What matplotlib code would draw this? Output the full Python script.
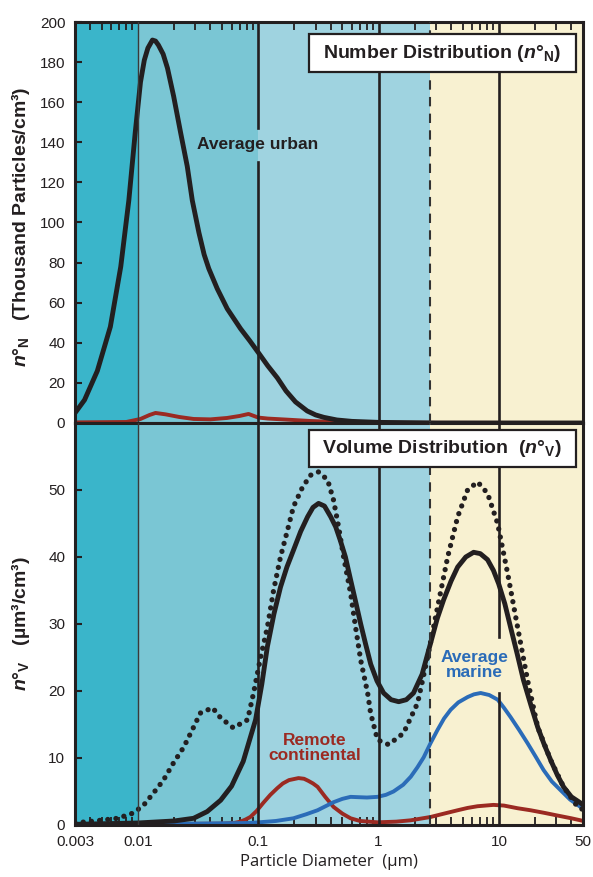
import numpy as np
import matplotlib.pyplot as plt
from matplotlib.patches import Rectangle
from matplotlib.ticker import LogLocator, NullFormatter

plt.rcParams['font.family'] = ['Liberation Sans', 'DejaVu Sans']
plt.rcParams['mathtext.fontset'] = 'custom'
plt.rcParams['mathtext.rm'] = 'Liberation Sans:bold'
plt.rcParams['mathtext.it'] = 'Liberation Sans:italic:bold'
plt.rcParams['mathtext.bf'] = 'Liberation Sans:bold'

INK = '#231F20'
RED = '#9B2A22'
BLUE = '#2B6CB8'

# size bands (um) and their fill colours
band_edges = [(0.003, 0.01), (0.01, 0.1), (0.1, 2.65), (2.65, 50)]
band_colors = ['#3AB5CA', '#7AC6D4', '#9FD3E0', '#F8F1D1']

# number distribution (thousand particles / cm3)
urban_n_d = [0.003, 0.0036, 0.0046, 0.0059, 0.0072, 0.0084, 0.0095, 0.0105, 0.0113, 0.0121,
             0.0132, 0.014, 0.0148, 0.0162, 0.0176, 0.0198, 0.0226, 0.0257, 0.0283, 0.0321,
             0.0355, 0.0388, 0.0456, 0.0552, 0.0713, 0.085, 0.101, 0.12, 0.144, 0.17,
             0.204, 0.255, 0.30, 0.351, 0.45, 0.6, 1.0, 3, 50]
urban_n = [5, 11.5, 26, 48, 78, 111, 145, 170, 181, 187,
           191, 190.5, 188.5, 184, 177, 163, 145, 128, 111, 95,
           84, 77, 67, 57, 47, 41, 34.8, 28.5, 22.5, 16,
           10.5, 6, 4, 2.8, 1.5, 0.8, 0.3, 0, 0]

remote_n_d = [0.003, 0.008, 0.0105, 0.0125, 0.014, 0.017, 0.022, 0.029, 0.04, 0.055,
              0.07, 0.083, 0.1, 0.12, 0.17, 0.27, 0.5, 1, 50]
remote_n = [0.3, 0.5, 2, 4, 5, 4.3, 3, 2, 1.8, 2.5,
            3.5, 4.5, 2.7, 2.2, 1.7, 1, 0.4, 0.1, 0]

# volume distribution (um3 / cm3)
urban_v_d = [0.003, 0.01, 0.02, 0.029, 0.0376, 0.0487, 0.06, 0.075, 0.095, 0.107,
             0.119, 0.135, 0.153, 0.173, 0.196, 0.225, 0.257, 0.285, 0.317, 0.355,
             0.40, 0.44, 0.48, 0.53, 0.585, 0.645, 0.71, 0.78, 0.86, 0.97,
             1.1, 1.27, 1.47, 1.7, 1.95, 2.3, 2.71, 3.07, 3.47, 4.0,
             4.54, 5.3, 6.16, 7.0, 8.04, 9.0, 9.95, 11.2, 12.5, 14.2,
             16.0, 18.5, 21, 23.8, 26.9, 30.5, 34.4, 40, 47.6, 50]
urban_v = [0.1, 0.3, 0.6, 1, 2, 3.7, 5.8, 9.5, 15.7, 21,
           26.6, 31.5, 35.5, 38.5, 41, 43.8, 46, 47.4, 48, 47.6,
           46, 44.5, 42.5, 40, 36.6, 33.3, 30, 27, 24, 21.5,
           19.7, 18.7, 18.4, 18.7, 19.7, 22.5, 27.2, 30.8, 33.6, 36.4,
           38.5, 40, 40.7, 40.5, 39.6, 38, 36, 33, 29.5, 25.5,
           21.6, 17.8, 14.6, 12, 9.7, 7.5, 5.7, 4.2, 3.3, 3]

urban_v2_d = [0.003, 0.0049, 0.0068, 0.0092, 0.0112, 0.0135, 0.0163, 0.0198, 0.024, 0.029,
              0.033, 0.0417, 0.0486, 0.062, 0.0815, 0.0914, 0.1045, 0.119, 0.134, 0.153,
              0.175, 0.196, 0.233, 0.272, 0.317, 0.377, 0.422, 0.465, 0.512, 0.585,
              0.644, 0.71, 0.811, 0.858, 0.98, 1.21, 1.61, 2.11, 2.55, 3.09,
              3.75, 4.54, 5.49, 6.65, 8.04, 9.75, 11.8, 14.3, 17.3, 21,
              26.9, 34.4, 45.1, 50]
urban_v2 = [0.3, 0.7, 1, 1.8, 3, 4.8, 6.7, 9.3, 11.6, 14.6,
            16.7, 17.5, 16, 14.5, 15.7, 19.7, 25, 29.5, 35, 40,
            44, 47.5, 50.4, 52.2, 52.7, 51.5, 48.5, 44.5, 40, 34.6,
            29.5, 24.6, 19.7, 16.7, 12.7, 12, 13.7, 18.2, 25, 32.5,
            40, 46, 50, 51.2, 49.5, 45, 37.6, 29.5, 21.6, 14.6,
            9.7, 5.7, 2.7, 2.3]

marine_v_d = [0.003, 0.03, 0.086, 0.14, 0.196, 0.25, 0.311, 0.422, 0.5, 0.585,
              0.68, 0.8, 0.98, 1.15, 1.33, 1.6, 1.85, 2.1, 2.37, 2.7,
              3.09, 3.5, 3.97, 4.6, 5.5, 6.2, 7.05, 8.3, 9.77, 11,
              12.5, 14.7, 17.3, 20.2, 23.5, 27.5, 32.5, 39, 47.5, 50]
marine_v = [0.1, 0.2, 0.3, 0.6, 1, 1.6, 2.2, 3.4, 3.9, 4.2,
            4.15, 4.1, 4.2, 4.5, 5, 6, 7.2, 8.6, 10.1, 12.2,
            14.2, 15.9, 17.2, 18.3, 19.1, 19.5, 19.7, 19.4, 18.7, 17.5,
            16.1, 14.2, 12.2, 10.2, 8.2, 6.5, 5.2, 3.8, 2.7, 2.5]

remote_v_d = [0.003, 0.05, 0.063, 0.071, 0.078, 0.086, 0.097, 0.11, 0.126, 0.144,
              0.16, 0.18, 0.216, 0.24, 0.26, 0.285, 0.311, 0.36, 0.422, 0.5,
              0.585, 0.7, 0.98, 1.4, 1.85, 2.71, 3.5, 4.54, 5.5, 6.64,
              9.0, 11, 14.3, 18.3, 24, 30.9, 40, 47.6, 50]
remote_v = [0.1, 0.2, 0.3, 0.5, 0.8, 1.2, 2.1, 3.3, 4.5, 5.5,
            6.2, 6.7, 7, 6.9, 6.6, 6.2, 5.7, 4.2, 2.7, 1.7,
            1, 0.6, 0.4, 0.5, 0.7, 1.2, 1.7, 2.2, 2.55, 2.8,
            3, 2.9, 2.5, 2.2, 1.8, 1.4, 1, 0.7, 0.6]

x_ticks = [0.003, 0.01, 0.1, 1, 10, 50]
x_tick_labels = ['0.003', '0.01', '0.1', '1', '10', '50']

fig = plt.figure(figsize=(5.93, 8.77), dpi=100)
ax1 = fig.add_axes([0.1265, 0.5177, 0.8567, 0.4572])
ax2 = fig.add_axes([0.1265, 0.0593, 0.8567, 0.4584])


def decade_line(ax, d, gap=None, **kw):
    if gap is None:
        ax.axvline(d, **kw)
    else:
        ax.axvline(d, ymin=0, ymax=gap[0], **kw)
        ax.axvline(d, ymin=gap[1], ymax=1, **kw)


for ax in (ax1, ax2):
    ax.set_xscale('log')
    ax.set_xlim(0.003, 50)
    for (lo, hi), c in zip(band_edges, band_colors):
        ax.axvspan(lo, hi, color=c, lw=0, zorder=0)
    ax.axvline(0.01, color='#3a3a3a', lw=1.0, zorder=3)
    ax.axvline(2.65, color='#333333', lw=1.5, linestyle=(0, (4.5, 3.5)), zorder=3)
    for s in ax.spines.values():
        s.set_linewidth(2.2)
        s.set_color(INK)
    ax.set_xticks(x_ticks)
    ax.xaxis.set_minor_locator(LogLocator(base=10, subs=np.arange(2, 10)))
    ax.xaxis.set_minor_formatter(NullFormatter())
    ax.tick_params(axis='x', which='major', length=0)
    ax.tick_params(axis='x', which='minor', length=6, width=1.3, color=INK, direction='in')
    ax.tick_params(axis='y', direction='in', length=5, width=1.5, color=INK,
                   labelsize=11, labelcolor=INK, pad=7, right=False)

decade_line(ax1, 0.1, gap=(0.651, 0.736), color=INK, lw=1.9, zorder=3)
decade_line(ax1, 1, color=INK, lw=1.9, zorder=3)
decade_line(ax1, 10, color=INK, lw=1.9, zorder=3)
decade_line(ax2, 0.1, color=INK, lw=1.9, zorder=3)
decade_line(ax2, 1, color=INK, lw=1.9, zorder=3)
decade_line(ax2, 10, gap=(0.328, 0.468), color=INK, lw=1.9, zorder=3)

curve = dict(solid_joinstyle='round', solid_capstyle='round', zorder=2)

# top panel: number distribution
ax1.plot(remote_n_d, remote_n, color=RED, lw=2.8, **curve)
ax1.plot(urban_n_d, urban_n, color=INK, lw=3.5, **curve)
ax1.set_ylim(0, 200)
ax1.set_yticks(range(0, 201, 20))
ax1.tick_params(axis='x', which='both', top=True, bottom=False, labelbottom=False)
ax1.set_ylabel(r"$n°_\mathbf{N}$   (Thousand Particles/cm³)", fontsize=14,
               fontweight='bold', color=INK)
ax1.yaxis.set_label_coords(-0.085, 0.49)
ax1.text(0.0987, 138.7, "Average urban", ha='center', va='center', fontsize=12.5,
         fontweight='bold', color=INK, zorder=4)
ax1.add_patch(Rectangle((0.461, 0.875), 0.525, 0.095, transform=ax1.transAxes,
                        fc='white', ec=INK, lw=1.6, zorder=5))
ax1.text(0.722, 0.922, r"Number Distribution ($n°_\mathbf{N}$)", transform=ax1.transAxes,
         ha='center', va='center', fontsize=14, fontweight='bold', color=INK, zorder=6)

# bottom panel: volume distribution
ax2.plot(remote_v_d, remote_v, color=RED, lw=2.8, **curve)
ax2.plot(marine_v_d, marine_v, color=BLUE, lw=2.8, **curve)
ax2.plot(urban_v2_d, urban_v2, color=INK, lw=3.8, linestyle=(0, (0.01, 1.55)),
         dash_capstyle='round', zorder=2)
ax2.plot(urban_v_d, urban_v, color=INK, lw=3.5, **curve)
ax2.set_ylim(0, 60)
ax2.set_yticks(range(0, 51, 10))
ax2.tick_params(axis='x', which='both', top=False, bottom=True)
ax2.set_xticklabels(x_tick_labels, fontsize=11, color=INK)
ax2.tick_params(axis='x', which='major', pad=7)
ax2.set_xlabel("Particle Diameter  (µm)", fontfamily='Open Sans', fontsize=12,
               color=INK, labelpad=4)
ax2.set_ylabel(r"$n°_\mathbf{V}$   (µm³/cm³)", fontsize=14, fontweight='bold', color=INK)
ax2.yaxis.set_label_coords(-0.085, 0.5)
ax2.text(0.293, 11.5, "Remote\ncontinental", ha='center', va='center', fontsize=12.5,
         fontweight='bold', color=RED, linespacing=1.05, zorder=4)
ax2.text(6.28, 23.9, "Average\nmarine", ha='center', va='center', fontsize=12.5,
         fontweight='bold', color=BLUE, linespacing=1.05, zorder=4)
ax2.add_patch(Rectangle((0.461, 0.891), 0.525, 0.092, transform=ax2.transAxes,
                        fc='white', ec=INK, lw=1.6, zorder=5))
ax2.text(0.722, 0.937, r"Volume Distribution  ($n°_\mathbf{V}$)", transform=ax2.transAxes,
         ha='center', va='center', fontsize=14, fontweight='bold', color=INK, zorder=6)

fig.savefig('out.png', dpi=100)
